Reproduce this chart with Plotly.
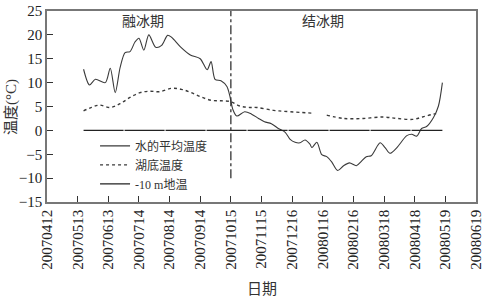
import plotly.graph_objects as go

# ---- data ----
water_dates = ["2007-05-19","2007-05-25","2007-05-31","2007-06-10","2007-06-15","2007-06-20","2007-06-25",
               "2007-06-30","2007-07-05","2007-07-10","2007-07-14","2007-07-19","2007-07-24","2007-07-31",
               "2007-08-06","2007-08-12","2007-08-16","2007-08-25","2007-09-04","2007-09-14","2007-09-21",
               "2007-09-25","2007-09-29","2007-10-05","2007-10-11","2007-10-14","2007-10-17","2007-10-21",
               "2007-10-29","2007-11-05","2007-11-12","2007-11-18","2007-11-25","2007-12-02","2007-12-09",
               "2007-12-14","2007-12-19","2007-12-24","2007-12-29","2008-01-03","2008-01-05","2008-01-10",
               "2008-01-15","2008-01-20","2008-01-25","2008-01-31","2008-02-06","2008-02-12","2008-02-19",
               "2008-02-24","2008-02-29","2008-03-05","2008-03-14","2008-03-19","2008-03-24","2008-03-31",
               "2008-04-10","2008-04-15","2008-04-20","2008-04-25","2008-04-30","2008-05-07","2008-05-12",
               "2008-05-16"]
water_temp = [12.8, 9.5, 10.7, 10.0, 13.0, 7.9, 13.2,
              16.3, 16.5, 18.5, 19.3, 16.8, 20.0, 17.4,
              17.8, 19.9, 19.5, 17.5, 15.8, 15.0, 12.7,
              14.4, 10.7, 10.4, 9.2, 7.2, 4.4, 3.0,
              3.9, 3.4, 2.5, 1.8, 1.4, 0.4, -0.4,
              -1.9, -2.5, -2.6, -2.0, -2.9, -3.6, -2.5,
              -5.1, -5.5, -6.6, -8.4, -7.4, -6.8, -7.4,
              -6.5, -5.5, -5.3, -2.6, -3.6, -4.8, -3.6,
              -1.1, -0.8, -1.2, 0.4, 0.8, 2.7, 5.1,
              10.0]

bottom_dates = ["2007-05-19","2007-05-27","2007-06-04","2007-06-15","2007-06-25","2007-07-05","2007-07-15",
                "2007-07-25","2007-08-04","2007-08-16","2007-08-26","2007-09-05","2007-09-15","2007-09-25",
                "2007-10-05","2007-10-15","2007-10-24","2007-11-03","2007-11-10","2007-11-27","2007-12-14",
                "2008-01-06","2008-01-13","2008-01-20","2008-02-06","2008-02-26","2008-03-17","2008-03-31",
                "2008-04-16","2008-04-26","2008-05-07","2008-05-13"]
bottom_temp = [4.1, 4.8, 5.3, 4.8, 5.6, 6.9, 7.9,
               8.2, 8.1, 8.8, 8.6, 7.9, 7.0, 6.3,
               6.2, 6.0, 5.1, 4.8, 4.8, 4.2, 3.9,
               3.6, None, 3.2, 2.5, 2.5, 2.8, 2.5,
               2.3, 2.8, 3.4, 3.6]

soil_dates = ["2007-05-19","2007-06-13","2007-07-14","2007-08-14","2007-09-14","2007-10-15","2007-11-15",
              "2007-12-16","2008-01-16","2008-02-16","2008-03-18","2008-04-18","2008-05-16"]
soil_temp = [0.0, 0.0, 0.0, 0.0, 0.0, 0.0, 0.0, 0.0, 0.0, 0.0, 0.0, 0.0, 0.0]

tick_dates = ["2007-04-12","2007-05-13","2007-06-13","2007-07-14","2007-08-14","2007-09-14","2007-10-15",
              "2007-11-15","2007-12-16","2008-01-16","2008-02-16","2008-03-18","2008-04-18","2008-05-19",
              "2008-06-19"]
tick_labels = [d.replace("-", "") for d in tick_dates]

split_date = "2007-10-15"
phase_labels = ["融冰期", "结冰期"]
phase_dates = ["2007-07-18", "2008-01-16"]
phase_y = [22.8, 22.8]

FONT = "Liberation Serif, Noto Sans CJK SC, serif"
LINE = "#3a3a3a"

fig = go.Figure()
fig.add_trace(go.Scatter(x=water_dates, y=water_temp, mode="lines", name="水的平均温度",
                         line=dict(color=LINE, width=1.1, shape="spline", smoothing=0.8)))
fig.add_trace(go.Scatter(x=bottom_dates, y=bottom_temp, mode="lines", name="湖底温度",
                         connectgaps=False,
                         line=dict(color=LINE, width=1.4, dash="dot", shape="spline")))
fig.add_trace(go.Scatter(x=soil_dates, y=soil_temp, mode="lines", name="-10 m地温",
                         line=dict(color="#222222", width=1.3, dash="40px,1px")))

fig.add_shape(type="line", xref="x", yref="y", x0=split_date, x1=split_date, y0=-10, y1=25,
              line=dict(color="#333333", width=1.3, dash="dashdot"))

for t, d, yv in zip(phase_labels, phase_dates, phase_y):
    fig.add_annotation(x=d, y=yv, xref="x", yref="y", text=t, showarrow=False,
                       font=dict(family=FONT, size=14, color="#333333"))

# axis titles
fig.add_annotation(x=0.5, y=-0.455, xref="paper", yref="paper", yanchor="middle", text="日期",
                   showarrow=False, font=dict(family=FONT, size=15, color="#333333"))
fig.add_annotation(x=-0.083, y=0.5, xref="paper", yref="paper", xanchor="center", text="温度(°C)",
                   textangle=-90, showarrow=False, font=dict(family=FONT, size=15, color="#333333"))

fig.update_layout(
    width=492, height=302,
    margin=dict(l=47, r=16, t=11, b=100, autoexpand=False),
    paper_bgcolor="white", plot_bgcolor="white",
    font=dict(family=FONT, size=14, color="#222222"),
    showlegend=True,
    legend=dict(x=0.112, y=0.37, xanchor="left", yanchor="top", bgcolor="rgba(0,0,0,0)",
                font=dict(family=FONT, size=12, color="#333333"), tracegroupgap=0,
                itemwidth=30),
)
fig.update_xaxes(type="date", range=["2007-04-12", "2008-06-19"], automargin=False,
                 tickmode="array", tickvals=tick_dates, ticktext=tick_labels, tickangle=-90,
                 ticks="inside", ticklen=6, tickcolor="#333333",
                 showline=True, linecolor="#777777", linewidth=1.5, mirror=True,
                 showgrid=False, zeroline=False,
                 tickfont=dict(family=FONT, size=15, color="#222222"))
fig.update_yaxes(range=[-15, 25], automargin=False,
                 tickmode="array", tickvals=[-15, -10, -5, 0, 5, 10, 15, 20, 25],
                 ticks="inside", ticklen=6, tickcolor="#333333",
                 showline=True, linecolor="#777777", linewidth=1.5, mirror=True,
                 showgrid=False, zeroline=False,
                 tickfont=dict(family=FONT, size=15, color="#222222"))

fig.write_html("out.html", config={"displayModeBar": False},
               post_script="document.body.style.margin='0';document.body.style.overflow='hidden';")
